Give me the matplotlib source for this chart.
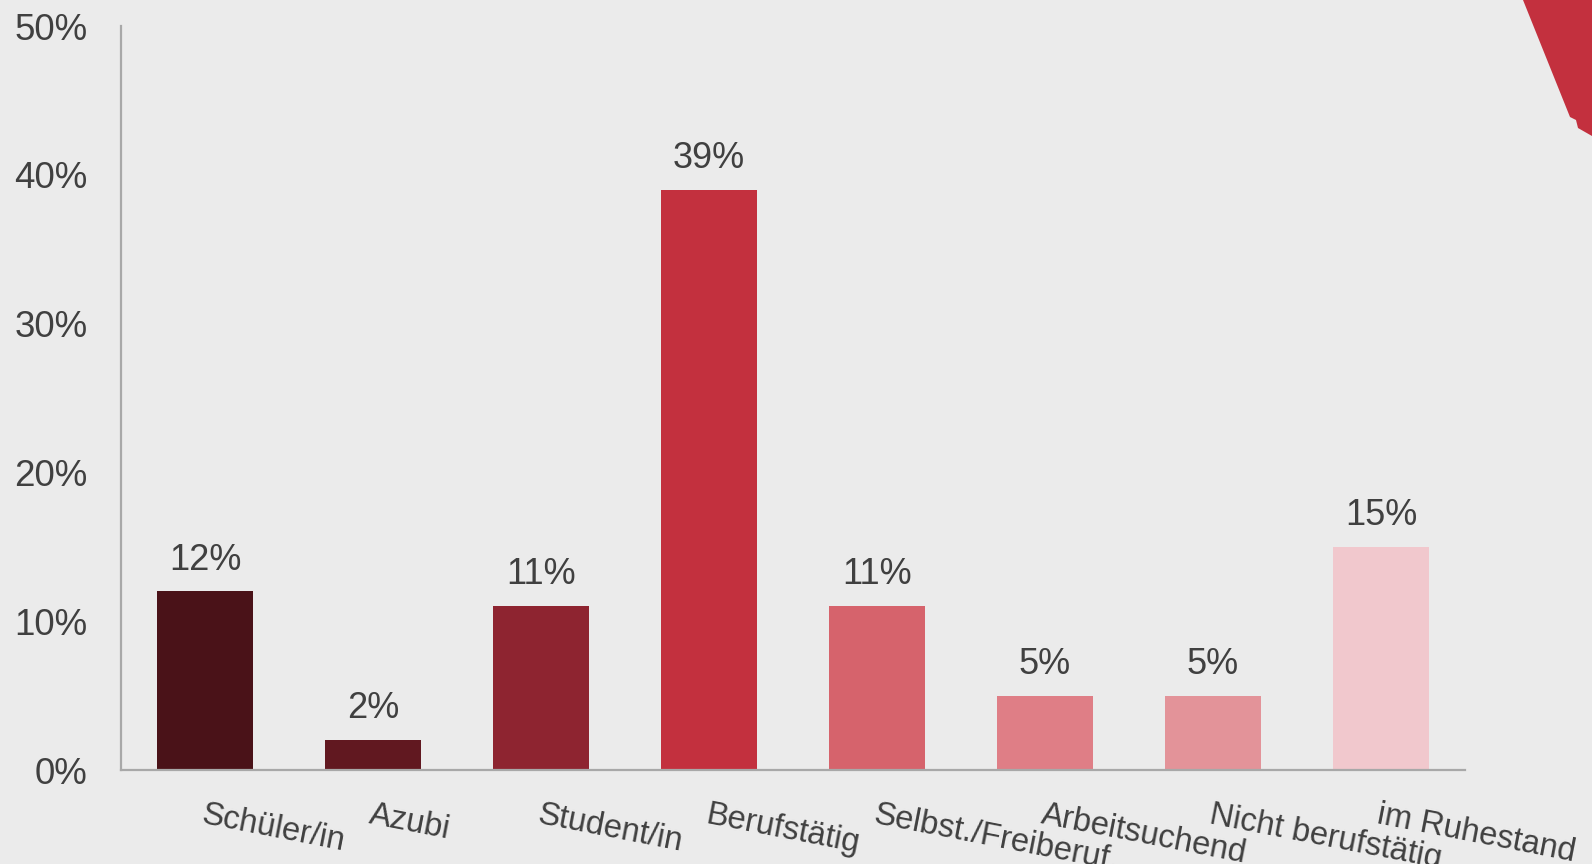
import matplotlib
matplotlib.use("Agg")
import matplotlib.pyplot as plt
from matplotlib.patches import Polygon

categories = ["Schüler/in", "Azubi", "Student/in", "Berufstätig",
              "Selbst./Freiberuf.", "Arbeitsuchend", "Nicht berufstätig", "im Ruhestand"]
values = [12, 2, 11, 39, 11, 5, 5, 15]
value_labels = ["12%", "2%", "11%", "39%", "11%", "5%", "5%", "15%"]
bar_colors = ["#4A1218", "#611820", "#8E2430", "#C3303E",
              "#D6636C", "#DF7E86", "#E39399", "#F1C8CD"]
y_ticks = [0, 10, 20, 30, 40, 50]
y_tick_labels = ["0%", "10%", "20%", "30%", "40%", "50%"]

plt.rcParams['font.family'] = ['Liberation Sans', 'DejaVu Sans']
bg = "#EBEBEB"
txt = "#404040"

fig = plt.figure(figsize=(15.92, 8.64), dpi=100, facecolor=bg)
ax = fig.add_axes([121/1592, 1-770/864, (1465-121)/1592, (770-26)/864])
ax.set_facecolor(bg)

x = list(range(len(categories)))
ax.bar(x, values, width=0.57, color=bar_colors, zorder=2)
for xi, v, lab in zip(x, values, value_labels):
    ax.annotate(lab, (xi, v), xytext=(0, 10), textcoords="offset points",
                ha="center", va="bottom", fontsize=26, color=txt)

ax.set_xlim(-0.5, 7.5)
ax.set_ylim(0, 50)
ax.set_yticks(y_ticks)
ax.set_yticklabels(y_tick_labels, fontsize=26.5, color=txt)
ax.set_xticks(x)
ax.set_xticklabels(categories, fontsize=23.5, color=txt, rotation=-11,
                   ha="left", va="top", rotation_mode="anchor")
ax.tick_params(axis="y", length=0, pad=24)
ax.tick_params(axis="x", length=0, pad=21)
for s in ["top", "right"]:
    ax.spines[s].set_visible(False)
for s in ["left", "bottom"]:
    ax.spines[s].set_color("#A8A8A8")
    ax.spines[s].set_linewidth(1.6)

# decorative red shape in top-right corner
W, H = 1592, 864
pts = [(1523, 0), (1570, 117), (1576, 120), (1578, 128), (1592, 136), (1592, 0)]
poly = Polygon([(px / W, 1 - py / H) for px, py in pts], closed=True,
               transform=fig.transFigure, facecolor="#C3303E", edgecolor="none")
fig.patches.append(poly)

fig.savefig("out.png", dpi=100, facecolor=bg)
